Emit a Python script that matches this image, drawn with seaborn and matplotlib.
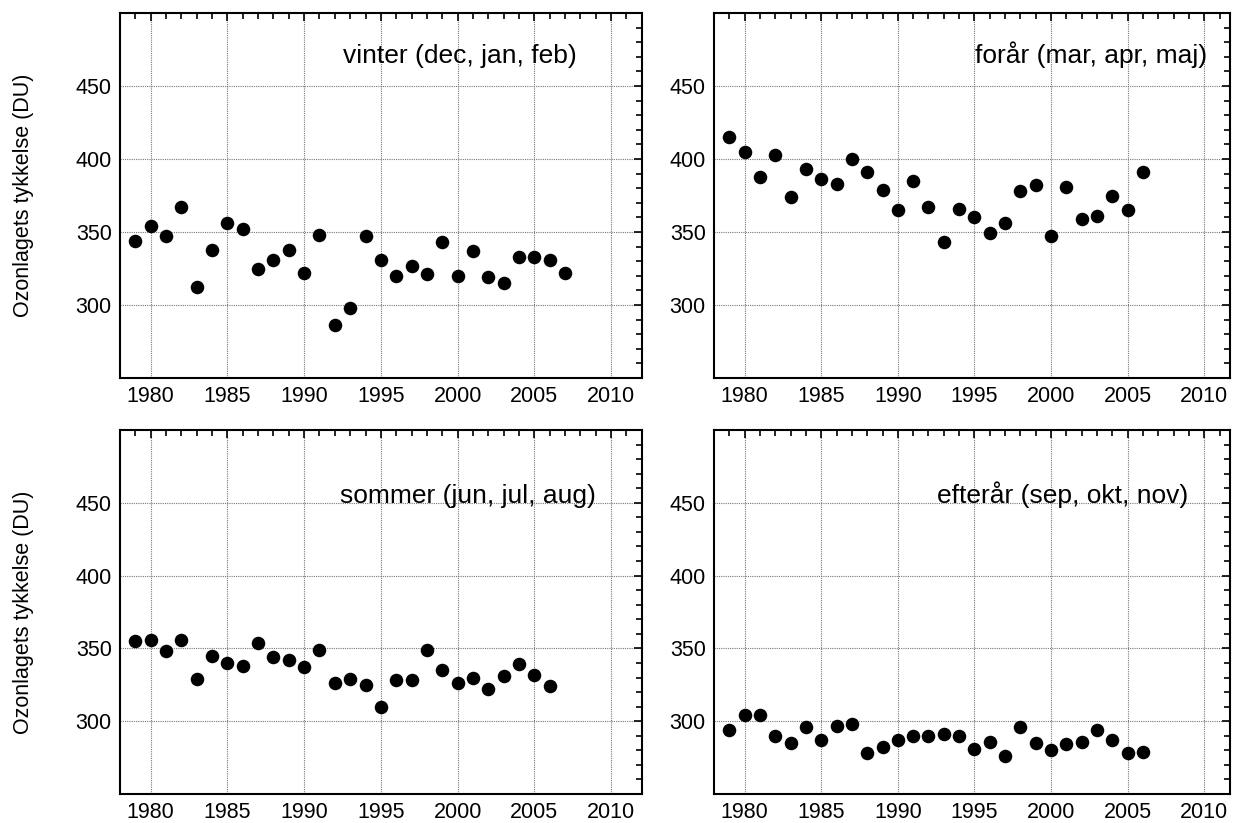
import numpy as np
import pandas as pd
import matplotlib
matplotlib.use("Agg")
import matplotlib.pyplot as plt
import seaborn as sns
from matplotlib.ticker import MultipleLocator

# ozone column per season (DU)
years_winter = list(range(1979, 2008))
winter = [344, 354, 347, 367, 312, 338, 356, 352, 325, 331, 338, 322, 348, 286, 298,
          347, 331, 320, 327, 321, 343, 320, 337, 319, 315, 333, 333, 331, 322]

years = list(range(1979, 2007))
spring = [415, 405, 388, 403, 374, 393, 386, 383, 400, 391, 379, 365, 385, 367, 343,
          366, 360, 349, 356, 378, 382, 347, 381, 359, 361, 375, 365, 391]
summer = [355, 356, 348, 356, 329, 345, 340, 338, 354, 344, 342, 337, 349, 326, 329,
          325, 310, 328, 328, 349, 335, 326, 330, 322, 331, 339, 332, 324]
autumn = [294, 304, 304, 290, 285, 296, 287, 297, 298, 278, 282, 287, 290, 290, 291,
          290, 281, 286, 276, 296, 285, 280, 284, 286, 294, 287, 278, 279]

titles = ["vinter (dec, jan, feb)", "forår (mar, apr, maj)",
          "sommer (jun, jul, aug)", "efterår (sep, okt, nov)"]
ylabel = "Ozonlagets tykkelse (DU)"

sns.set_style("white")
plt.rcParams['font.family'] = ['Liberation Sans', 'DejaVu Sans']
plt.rcParams['text.color'] = 'black'
plt.rcParams['axes.labelcolor'] = 'black'

fig = plt.figure(figsize=(12.36, 8.23), dpi=100)

W, H = 1236, 823
# left, top, right, bottom in pixels
boxes = [(120, 13, 641.7, 378), (714, 13, 1230, 378),
         (120, 430, 641.7, 794), (714, 430, 1230, 794)]
xmax = [2012, 2011.68, 2012, 2011.68]
text_pos = [(0.876, 0.863), (0.955, 0.863), (0.912, 0.80), (0.92, 0.80)]

series = [(years_winter, winter), (years, spring), (years, summer), (years, autumn)]

for i, (l, t, r, b) in enumerate(boxes):
    ax = fig.add_axes([l / W, 1 - b / H, (r - l) / W, (b - t) / H])
    x, y = series[i]
    df = pd.DataFrame({"year": x, "ozone": y})
    sns.scatterplot(data=df, x="year", y="ozone", ax=ax, color="black",
                    s=95, linewidth=0, zorder=3)
    ax.set_xlim(1978, xmax[i])
    ax.set_ylim(250, 500)
    ax.xaxis.set_major_locator(MultipleLocator(5))
    ax.xaxis.set_minor_locator(MultipleLocator(1))
    ax.set_yticks([300, 350, 400, 450])
    ax.yaxis.set_minor_locator(MultipleLocator(10))
    ax.grid(True, which="major", linestyle=(0, (1, 1)), color="#777777", linewidth=0.8)
    ax.tick_params(which="both", direction="in", top=True, right=True,
                   labelsize=15.5, colors="black", width=1.2)
    ax.tick_params(which="major", length=6, pad=6)
    ax.tick_params(which="minor", length=4)
    for sp in ax.spines.values():
        sp.set_color("black")
        sp.set_linewidth(1.5)
    ax.set_xlabel("")
    if i % 2 == 0:
        ax.set_ylabel(ylabel, fontsize=15.5, labelpad=30, color="black")
    else:
        ax.set_ylabel("")
    tx, ty = text_pos[i]
    ax.text(tx, ty, titles[i], transform=ax.transAxes, ha="right", va="baseline",
            fontsize=19, color="black")

fig.savefig("out.png", dpi=100)
